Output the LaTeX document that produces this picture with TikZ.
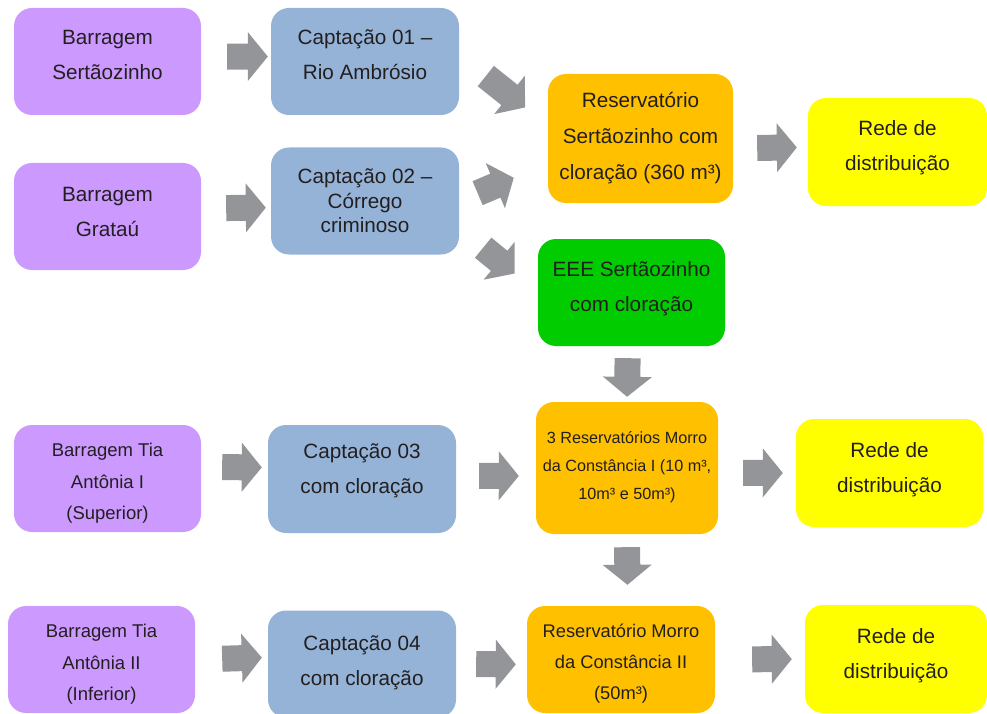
\documentclass[tikz,border=0pt]{standalone}
\usepackage{fontspec}
\setmainfont{Liberation Sans}
\usepackage{tikz}
\usetikzlibrary{calc}
\definecolor{DamPurple}{HTML}{CC99FF}
\definecolor{IntakeBlue}{HTML}{95B3D7}
\definecolor{TankOrange}{HTML}{FFC000}
\definecolor{NetYellow}{HTML}{FFFF00}
\definecolor{PumpGreen}{HTML}{00CC00}
\definecolor{ArrowGray}{HTML}{939598}
\definecolor{TextDark}{HTML}{231F20}

\begin{document}
\begin{tikzpicture}[
  x=1pt, y=-1pt,
  box/.style={rectangle, rounded corners=18pt, align=center, inner sep=0pt, text=TextDark,
              minimum width=187pt, minimum height=107pt, font=\fontsize{20.7}{35}\selectfont,
              text height=37pt, text depth=0pt},
  dam/.style={box, fill=DamPurple},
  intake/.style={box, fill=IntakeBlue, minimum width=188pt},
  tank/.style={box, fill=TankOrange},
  pump/.style={box, fill=PumpGreen},
  net/.style={box, fill=NetYellow, text height=38pt},
  small/.style={font=\fontsize{18.5}{31.5}\selectfont, text height=82pt},
  % block arrow: #1 gap at the start, #2 gap at the tip
  fat/.style 2 args={to path={
    let \p1=($(\tikztostart)!#1!(\tikztotarget)$),
        \p2=($(\tikztotarget)!#2!(\tikztostart)$),
        \p3=($(\p2)!20pt!(\p1)$) in
    ($(\p1)!13pt!90:(\p2)$) -- ($(\p3)!13pt!90:(\p2)$) -- ($(\p3)!24.5pt!90:(\p2)$)
    -- (\p2) -- ($(\p3)!24.5pt!-90:(\p2)$) -- ($(\p3)!13pt!-90:(\p2)$)
    -- ($(\p1)!13pt!-90:(\p2)$) -- cycle}},
  arr/.style={fill=ArrowGray}
]
\useasboundingbox (0,0) rectangle (987,714);
\clip (0,0) rectangle (987,714);

% Nodes
\node[dam] (b1) at (107.5,61.5) {Barragem\\Sertãozinho};
\node[intake] (c1) at (365,61.5) {Captação 01 –\\Rio Ambrósio};
\node[dam, text height=39pt] (b2) at (107.5,216.5) {Barragem\\Grataú};
\node[intake, font=\fontsize{20.7}{24}\selectfont, text height=62pt] (c2) at (365,201) {Captação 02 –\\Córrego\\criminoso};
\node[tank, minimum width=185pt, minimum height=129pt, font=\fontsize{20.7}{35.5}\selectfont, text height=81pt] (r1) at (640.5,138.5) {Reservatório\\Sertãozinho com\\cloração (360 m³)};
\node[net, minimum width=179pt, minimum height=108pt] (d1) at (897.5,152) {Rede de\\distribuição};
\node[pump] (eee) at (631.5,292.5) {EEE Sertãozinho\\com cloração};

\node[dam, small] (b3) at (107.5,478.5) {Barragem Tia\\Antônia I\\(Superior)};
\node[intake, minimum height=108pt, text height=28pt] (c3) at (362,479) {Captação 03\\com cloração};
\node[tank, minimum width=182pt, minimum height=132pt, font=\fontsize{16.2}{28}\selectfont,
      text height=62pt] (r2) at (627,468) {3 Reservatórios Morro\\da Constância I (10 m³,\\10m³ e 50m³)};
\node[net, minimum height=108pt] (d2) at (889.5,473) {Rede de\\distribuição};

\node[dam, small] (b4) at (101.5,659.5) {Barragem Tia\\Antônia II\\(Inferior)};
\node[intake, text height=42pt] (c4) at (362,664) {Captação 04\\com cloração};
\node[tank, minimum width=188pt, font=\fontsize{18.3}{31}\selectfont,
      text height=80pt] (r3) at (621,659.5) {Reservatório Morro\\da Constância II\\(50m³)};
\node[net, minimum width=182pt, minimum height=108pt] (d3) at (896,659) {Rede de\\distribuição};

% Arrows
\path[arr] (b1.3) to[fat={26pt}{3pt}] (c1.177);
\path[arr] (b2.5) to[fat={25pt}{5pt}] (c2.184);
\path[arr] (c1.4) to[fat={34pt}{29pt}] (r1.172);
\path[arr] (c2.east) to[fat={20pt}{37pt}] (r1.195);
\path[arr] (c2.344) to[fat={31pt}{30pt}] (eee.west);
\path[arr] (r1.354) to[fat={24pt}{11pt}] (d1.177);
\path[arr] (eee.266) to[fat={12pt}{5pt}] (r2.north);

\path[arr] (b3.7) to[fat={21pt}{6pt}] (c3.173);
\path[arr] (c3.2) to[fat={23pt}{17pt}] (r2.185);
\path[arr] (r2.357) to[fat={25pt}{13pt}] (d2.west);
\path[arr] (r2.south) to[fat={13pt}{21pt}] (r3.83);

\path[arr] (b4.east) to[fat={27pt}{6pt}] (c4.176);
\path[arr] (c4.east) to[fat={20pt}{11pt}] (r3.183);
\path[arr] (r3.east) to[fat={37pt}{13pt}] (d3.west);

\end{tikzpicture}
\end{document}
